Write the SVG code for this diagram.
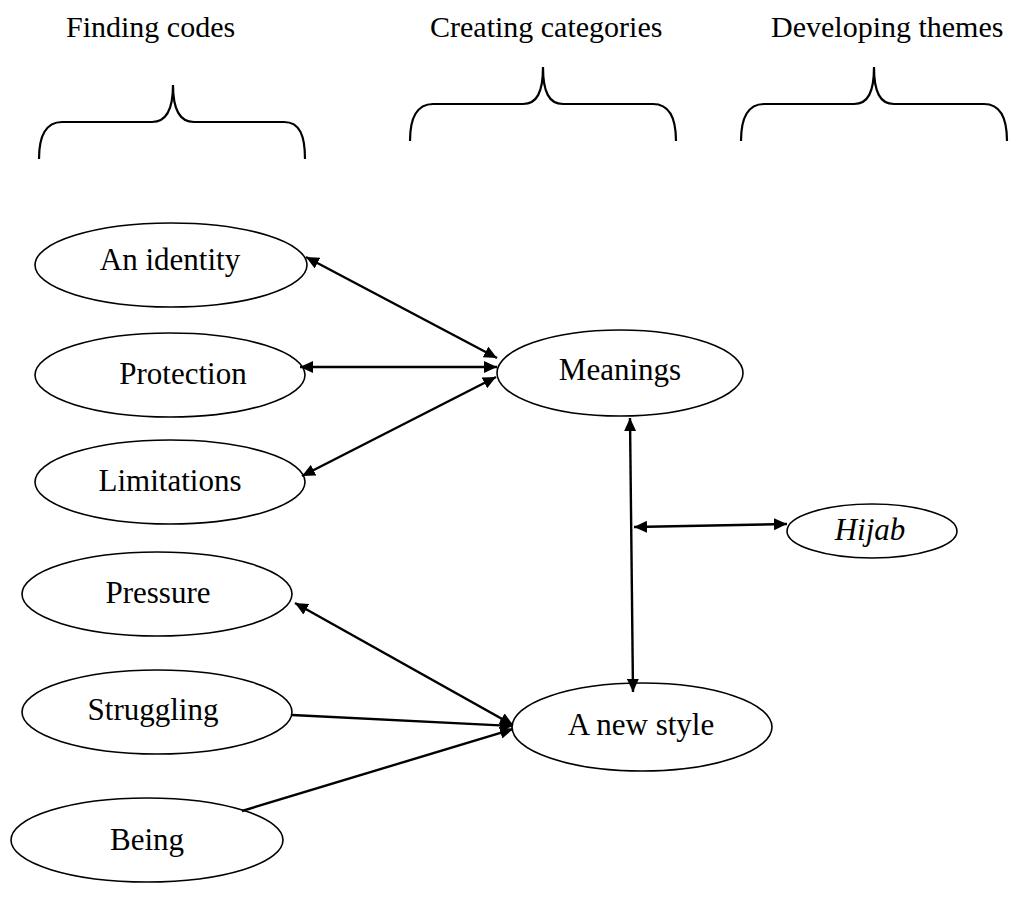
<svg xmlns="http://www.w3.org/2000/svg" width="1030" height="897" viewBox="0 0 1030 897">
  <style>
    .hdr { font-family: "Liberation Serif", "Times New Roman", serif; font-size: 30px; fill: #000; }
    .lbl { font-family: "Liberation Serif", "Times New Roman", serif; font-size: 31px; fill: #000; text-anchor: middle; }
    .node ellipse { fill: #fff; stroke: #000; stroke-width: 1.6; }
    .brace { fill: none; stroke: #000; stroke-width: 2.2; }
    .link { stroke: #000; stroke-width: 2.4; fill: none; }
  </style>
  <defs>
    <marker id="arrow" viewBox="0 0 13 12" refX="13" refY="6" markerWidth="13" markerHeight="12" markerUnits="userSpaceOnUse" orient="auto-start-reverse">
      <path d="M0,0 L13,6 L0,12 z" fill="#000"/>
    </marker>
  </defs>
  <rect width="1030" height="897" fill="#fff"/>

  <!-- column headings -->
  <g id="headings">
    <text class="hdr" x="66" y="37">Finding codes</text>
    <text class="hdr" x="430" y="37">Creating categories</text>
    <text class="hdr" x="771" y="37">Developing themes</text>
  </g>

  <!-- curly braces under the headings -->
  <g id="braces">
    <path class="brace" d="M39,159 C39,136 46,122 62,122 L152,122 C166,122 173,110 173,85 C173,110 180,122 194,122 L284,122 C300,122 305,136 305,159"/>
    <path class="brace" d="M410,141 C410,118 417,104 433,104 L523,104 C537,104 543,92 543,67 C543,92 549,104 563,104 L653,104 C669,104 676,118 676,141"/>
    <path class="brace" d="M741,141 C741,118 748,104 764,104 L854,104 C868,104 874,92 874,67 C874,92 880,104 894,104 L984,104 C1000,104 1007,118 1007,141"/>
  </g>

  <!-- code nodes -->
  <g id="node-identity" class="node">
    <ellipse cx="171" cy="265" rx="136" ry="42"/>
    <text class="lbl" x="170" y="270">An identity</text>
  </g>
  <g id="node-protection" class="node">
    <ellipse cx="170" cy="375" rx="135" ry="42"/>
    <text class="lbl" x="183" y="384">Protection</text>
  </g>
  <g id="node-limitations" class="node">
    <ellipse cx="170" cy="482" rx="135" ry="42"/>
    <text class="lbl" x="170" y="491">Limitations</text>
  </g>
  <g id="node-pressure" class="node">
    <ellipse cx="157" cy="594" rx="135" ry="42"/>
    <text class="lbl" x="158" y="603">Pressure</text>
  </g>
  <g id="node-struggling" class="node">
    <ellipse cx="157" cy="712" rx="135" ry="42"/>
    <text class="lbl" x="153" y="720">Struggling</text>
  </g>
  <g id="node-being" class="node">
    <ellipse cx="147" cy="840" rx="136" ry="42"/>
    <text class="lbl" x="147" y="850">Being</text>
  </g>

  <!-- category nodes -->
  <g id="node-meanings" class="node">
    <ellipse cx="620" cy="373" rx="123" ry="43"/>
    <text class="lbl" x="620" y="380">Meanings</text>
  </g>
  <g id="node-newstyle" class="node">
    <ellipse cx="642" cy="727" rx="130" ry="44"/>
    <text class="lbl" x="641" y="735">A new style</text>
  </g>

  <!-- theme node -->
  <g id="node-hijab" class="node">
    <ellipse cx="872" cy="531" rx="85" ry="27"/>
    <text class="lbl" x="870" y="540" font-style="italic">Hijab</text>
  </g>

  <!-- connectors, drawn last so arrowheads sit over the ellipse outlines -->
  <g id="connectors">
    <line class="link" x1="306" y1="257" x2="497" y2="358" marker-start="url(#arrow)" marker-end="url(#arrow)"/>
    <line class="link" x1="300" y1="367" x2="497" y2="367" marker-start="url(#arrow)" marker-end="url(#arrow)"/>
    <line class="link" x1="302" y1="476" x2="496" y2="377" marker-start="url(#arrow)" marker-end="url(#arrow)"/>
    <line class="link" x1="630" y1="418" x2="633" y2="692" marker-start="url(#arrow)" marker-end="url(#arrow)"/>
    <line class="link" x1="634" y1="527" x2="787" y2="524" marker-start="url(#arrow)" marker-end="url(#arrow)"/>
    <line class="link" x1="295" y1="603" x2="513" y2="725" marker-start="url(#arrow)" marker-end="url(#arrow)"/>
    <line class="link" x1="292" y1="715" x2="513" y2="726" marker-end="url(#arrow)"/>
    <line class="link" x1="242" y1="811" x2="513" y2="729" marker-end="url(#arrow)"/>
  </g>
</svg>
